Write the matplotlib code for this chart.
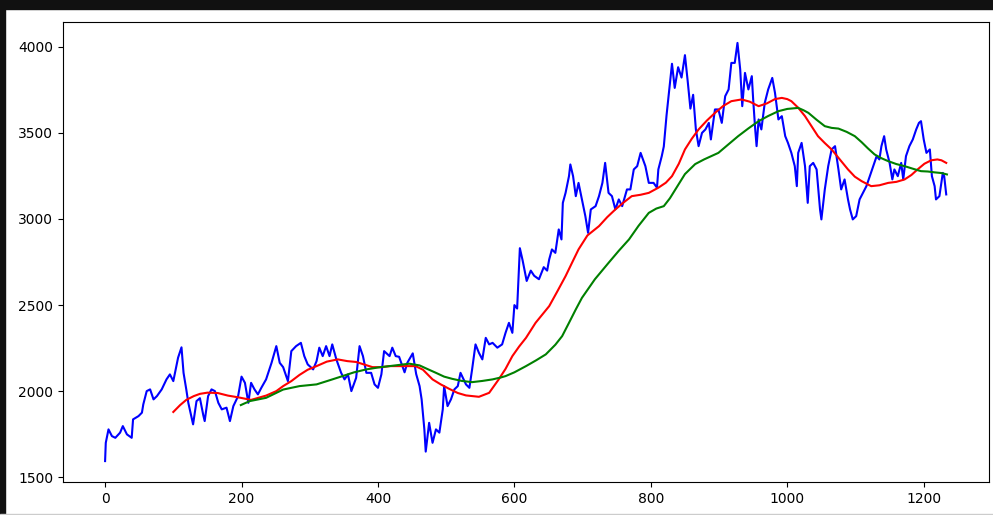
import numpy as np
import matplotlib
matplotlib.use("Agg")
import matplotlib.pyplot as plt
from matplotlib.patches import Rectangle

# closing price (day index, value)
close_day = [0, 1, 5, 10, 15, 22, 26, 32, 39, 41, 49, 54, 56, 61, 66, 71, 76, 83, 90, 95,
             100, 107, 112, 115, 119, 122, 129, 134, 139, 144, 146, 151, 156, 161, 166, 171, 178, 183, 188, 195,
             200, 205, 210, 214, 219, 224, 229, 236, 244, 251, 256, 261, 268, 273, 280, 287, 292, 297,
             305, 310, 314, 319, 324, 329, 333, 339, 346, 351, 356, 361, 368, 373, 378, 383, 390, 395,
             400, 405, 409, 417, 421, 426, 431, 439, 443, 451, 456, 461, 464, 468, 470, 475, 480, 485, 490, 495, 497,
             502, 507, 512, 517, 521, 529, 534, 538, 543, 548, 553, 558, 563, 568, 575, 582, 587, 592, 597,
             600, 604, 608, 612, 618, 624, 629, 636, 643, 648, 651, 655, 660, 665, 669, 671, 675, 680, 682, 686, 690, 694, 699,
             704, 708, 712, 719, 724, 729, 733, 738, 743, 748, 753, 758, 765, 770, 775, 780, 785, 792, 797,
             804, 809, 811, 816, 819, 823, 827, 831, 835, 840, 845, 850, 854, 858, 862, 866, 870, 875, 880, 885, 888, 894, 899,
             904, 909, 914, 918, 923, 927, 931, 934, 938, 943, 948, 950, 953, 955, 958, 962, 967, 972, 978, 982, 987, 992, 997,
             1001, 1006, 1011, 1014, 1016, 1021, 1026, 1030, 1033, 1038, 1043, 1048, 1050, 1055, 1060, 1065, 1070, 1075, 1079,
             1084, 1089, 1092, 1096, 1101, 1106, 1111, 1116, 1121, 1126, 1131, 1135, 1138, 1142, 1145, 1150, 1154, 1157,
             1162, 1167, 1170, 1174, 1179, 1184, 1189, 1193, 1196, 1200, 1204, 1209, 1212, 1216, 1218, 1223, 1228, 1230, 1233]
close = [1595, 1701, 1779, 1740, 1730, 1760, 1798, 1750, 1730, 1837, 1856, 1876, 1924, 2001, 2011, 1953, 1972, 2011, 2069, 2098,
         2059, 2195, 2255, 2107, 2011, 1933, 1808, 1943, 1960, 1860, 1827, 1972, 2011, 2001, 1933, 1895, 1905, 1827, 1914, 1972,
         2085, 2049, 1933, 2049, 2011, 1982, 2020, 2069, 2165, 2262, 2165, 2140, 2059, 2233, 2262, 2281, 2204, 2156,
         2127, 2175, 2253, 2204, 2262, 2204, 2272, 2185, 2107, 2069, 2098, 2001, 2078, 2262, 2204, 2107, 2107, 2040,
         2020, 2098, 2233, 2204, 2253, 2204, 2200, 2110, 2165, 2220, 2100, 2030, 1953, 1779, 1650, 1817, 1701, 1779, 1760, 1895, 2030,
         1914, 1953, 2011, 2030, 2107, 2040, 2020, 2127, 2272, 2223, 2185, 2310, 2272, 2281, 2253, 2272, 2339, 2397, 2339,
         2500, 2480, 2830, 2760, 2640, 2700, 2670, 2650, 2720, 2700, 2765, 2823, 2803, 2939, 2881, 3093, 3151, 3248, 3316, 3248, 3132, 3209, 3113,
         3016, 2919, 3055, 3074, 3132, 3209, 3325, 3151, 3132, 3055, 3113, 3074, 3171, 3171, 3287, 3306, 3383, 3306, 3209,
         3209, 3181, 3287, 3364, 3420, 3600, 3750, 3900, 3760, 3880, 3820, 3950, 3800, 3640, 3720, 3520, 3422, 3499, 3519, 3557, 3461, 3635, 3635,
         3557, 3712, 3751, 3905, 3905, 4021, 3867, 3654, 3847, 3751, 3828, 3693, 3519, 3422, 3577, 3519, 3673, 3751, 3818, 3731, 3577, 3596, 3480,
         3441, 3383, 3306, 3190, 3383, 3441, 3306, 3093, 3306, 3325, 3287, 3055, 2997, 3171, 3306, 3403, 3422, 3287, 3171,
         3229, 3113, 3055, 2997, 3016, 3113, 3151, 3190, 3248, 3306, 3364, 3345, 3422, 3480, 3403, 3325, 3229, 3287,
         3248, 3325, 3229, 3364, 3422, 3461, 3519, 3557, 3567, 3461, 3383, 3403, 3248, 3190, 3113, 3132, 3267, 3248, 3142]

# 100-day moving average
ma100_day = [100, 110, 119, 130, 139, 150, 165, 180, 195, 214, 236, 251, 261, 273, 285, 297, 310, 325, 341, 355,
             368, 380, 392, 405, 417, 441, 455, 466, 480, 492, 504, 517, 529, 548, 563, 577, 587, 597, 607, 617,
             631, 651, 663, 675, 685, 694, 707, 724, 736, 748, 760, 772, 785, 797, 811, 822, 831, 841, 850, 860,
             870, 882, 894, 906, 918, 933, 945, 958, 970, 982, 992, 1000, 1006, 1016, 1026, 1036, 1045, 1055, 1065, 1077,
             1089, 1099, 1109, 1123, 1135, 1148, 1160, 1172, 1182, 1191, 1201, 1211, 1220, 1226, 1233]
ma100 = [1880, 1920, 1950, 1972, 1985, 1992, 1990, 1975, 1965, 1950, 1975, 2001, 2030, 2059, 2095, 2125, 2146, 2172, 2185, 2175,
         2170, 2155, 2140, 2140, 2146, 2146, 2146, 2125, 2069, 2040, 2015, 1990, 1976, 1968, 1991, 2069, 2130, 2204, 2260, 2310,
         2397, 2494, 2580, 2668, 2750, 2823, 2904, 2958, 3010, 3055, 3095, 3132, 3140, 3151, 3181, 3210, 3248, 3320, 3403, 3465,
         3519, 3570, 3615, 3655, 3683, 3693, 3680, 3654, 3670, 3695, 3702, 3695, 3683, 3645, 3596, 3535, 3480, 3440, 3403, 3345,
         3287, 3245, 3219, 3190, 3195, 3209, 3215, 3229, 3255, 3287, 3320, 3340, 3345, 3340, 3325]

# 200-day moving average
ma200_day = [199, 212, 236, 261, 285, 310, 330, 348, 365, 383, 400, 417, 446, 461, 472, 485, 497, 509, 523, 538,
             553, 568, 580, 587, 600, 617, 632, 646, 660, 670, 680, 690, 699, 718, 738, 753, 768, 782, 797, 808,
             819, 828, 836, 850, 865, 878, 899, 913, 928, 943, 958, 972, 987, 1000, 1016, 1024, 1031, 1043, 1055, 1065,
             1075, 1087, 1099, 1109, 1118, 1128, 1138, 1148, 1160, 1172, 1185, 1196, 1206, 1216, 1226, 1234]
ma200 = [1920, 1943, 1962, 2010, 2030, 2040, 2065, 2088, 2110, 2127, 2138, 2146, 2160, 2150, 2130, 2107, 2085, 2072, 2060, 2053,
         2060, 2069, 2080, 2088, 2110, 2146, 2180, 2214, 2270, 2320, 2397, 2475, 2542, 2650, 2745, 2815, 2881, 2960, 3035, 3060,
         3074, 3120, 3171, 3260, 3318, 3345, 3383, 3430, 3480, 3525, 3567, 3597, 3625, 3638, 3644, 3630, 3615, 3575, 3538, 3528,
         3524, 3505, 3480, 3445, 3410, 3374, 3352, 3335, 3318, 3306, 3290, 3277, 3275, 3270, 3266, 3258]

W, H = 993, 515
fig = plt.figure(figsize=(W / 100, H / 100), dpi=100)
ax = fig.add_axes([63 / W, (H - 482) / H, (989 - 63) / W, (482 - 22) / H])

ax.plot(close_day, close, 'b')
ax.plot(ma100_day, ma100, 'r')
ax.plot(ma200_day, ma200, 'g')

ax.set_xticks(np.arange(0, 1201, 200))
ax.set_yticks(np.arange(1500, 4001, 500))

# window frame around the output cell
fig.patches.append(Rectangle((0, 1 - 9 / H), 1, 9 / H, transform=fig.transFigure,
                             color='#111111', zorder=10))
fig.patches.append(Rectangle((0, 0), 5 / W, 1, transform=fig.transFigure,
                             color='#111111', zorder=10))
fig.patches.append(Rectangle((0, 0), 1, 1.5 / H, transform=fig.transFigure,
                             color='#cccccc', zorder=10))

fig.savefig("out.png", dpi=100)
